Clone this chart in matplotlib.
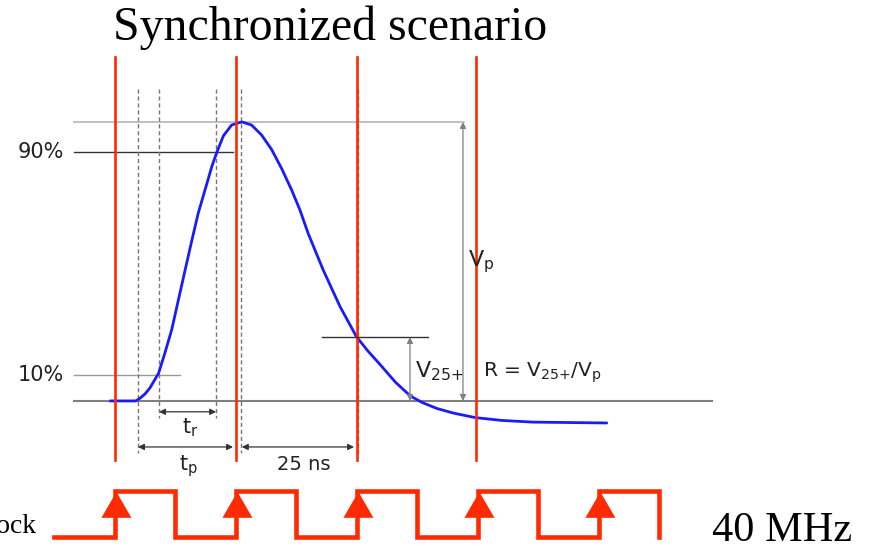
import matplotlib.pyplot as plt
import numpy as np

# pulse shape (time in ns, amplitude normalised to peak)
pulse_t = [-1.0, 4.3, 5.2, 6.2, 7.2, 9.0, 10.3, 11.7, 13.1, 14.5, 15.9, 17.2, 18.6, 20.0, 21.1, 22.4,
           24.1, 26.2, 28.2, 30.3, 32.4, 34.4, 36.5, 38.2, 39.9, 43.0, 46.5, 49.9, 52.3, 54.8, 57.9,
           61.0, 63.5, 66.5, 70.0, 74.5, 80.0, 86.4, 101.6]
pulse_v = [0.0, 0.0, 0.010, 0.025, 0.046, 0.099, 0.171, 0.254, 0.362, 0.470, 0.577, 0.673, 0.756,
           0.840, 0.894, 0.950, 0.989, 1.0, 0.989, 0.953, 0.900, 0.834, 0.756, 0.685, 0.601, 0.470,
           0.338, 0.230, 0.178, 0.130, 0.068, 0.018, -0.006, -0.027, -0.044, -0.060, -0.070, -0.076, -0.079]

# sampling instants (red lines), 25 ns apart
sample_t = [0, 25, 50, 74.6]

# 40 MHz clock
clock_t = [-12.5, 0, 0, 12.5, 12.5, 25, 25, 37.5, 37.5, 50, 50, 62.5, 62.5,
           75, 75, 87.5, 87.5, 100, 100, 112.5, 112.5]
clock_lvl = [0, 0, 1, 1, 0, 0, 1, 1, 0, 0, 1, 1, 0, 0, 1, 1, 0, 0, 1, 1, 0]
rising_t = [0, 25, 50, 75, 100]

# timing marks
t_start = 4.75
t_10 = 9.1
t_90 = 20.9
t_peak = 26.0
t_25 = 50.2
v_25 = 0.229

red = '#ff2a00'
txt = '#222222'

fig = plt.figure(figsize=(8.7, 5.46), dpi=100)
ax = fig.add_axes([0, 0, 1, 1])
ax.set_xlim(-23.76, 156.0)
ax.set_ylim(-0.520, 1.437)
ax.axis('off')
plt.rcParams['mathtext.default'] = 'regular'

# reference levels
ax.plot([-8.5, 72.1], [1.0, 1.0], color='#b5b5b5', lw=1.2)
ax.plot([-8.5, 24.4], [0.893, 0.893], color='#333333', lw=1.0)
ax.plot([-8.5, 13.4], [0.093, 0.093], color='#999999', lw=1.0)
ax.plot([-8.5, 123.3], [0.0, 0.0], color='#808080', lw=1.5)
ax.text(-10.6, 0.893, '90%', ha='right', va='center', fontsize=15, color=txt)
ax.text(-10.6, 0.093, '10%', ha='right', va='center', fontsize=15, color=txt)

# dashed timing guides
for t, bot in [(t_start, -0.186), (t_10, -0.061), (t_90, -0.061), (t_peak, -0.186), (t_25, -0.186)]:
    ax.plot([t, t], [1.118, bot], color='#777777', lw=1.0, ls=(0, (3, 2)))

# pulse
ax.plot(pulse_t, pulse_v, color='#1a1aff', lw=2.0, solid_capstyle='round', solid_joinstyle='round')

# sampling lines
for t in sample_t:
    ax.plot([t, t], [1.233, -0.211], color=red, lw=1.9)

# arrows
arr = dict(arrowstyle='<|-|>', color='#333333', lw=0.9, mutation_scale=9, shrinkA=0, shrinkB=0)
ax.annotate('', xy=(t_10, -0.039), xytext=(t_90, -0.039), arrowprops=arr)
ax.annotate('', xy=(t_start, -0.165), xytext=(24.4, -0.165), arrowprops=arr)
ax.annotate('', xy=(26.2, -0.165), xytext=(49.4, -0.165), arrowprops=arr)
vp_arr = dict(arr, color='#808080')
ax.annotate('', xy=(71.9, 1.0), xytext=(71.9, 0.0), arrowprops=vp_arr)
ax.annotate('', xy=(60.95, v_25), xytext=(60.95, 0.0), arrowprops=vp_arr)
ax.plot([42.8, 64.7], [v_25, v_25], color='#333333', lw=1.0)

ax.text(15.5, -0.097, '$t_r$', ha='center', va='center', fontsize=15, color=txt)
ax.text(15.1, -0.235, '$t_p$', ha='center', va='center', fontsize=15, color=txt)
ax.text(39.0, -0.229, '25 ns', ha='center', va='center', fontsize=14, color=txt)
ax.text(72.9, 0.50, '$V_p$', ha='left', va='center', fontsize=16, color=txt)
ax.text(62.0, 0.105, '$V_{25{+}}$', ha='left', va='center', fontsize=16, color=txt)
ax.text(76.0, 0.10, 'R = $V_{25{+}}$/$V_p$', ha='left', va='center', fontsize=14.5, color=txt)

# clock
clk_lo, clk_hi = -0.487, -0.323
clk_y = [clk_lo + (clk_hi - clk_lo) * l for l in clock_lvl]
ax.plot(clock_t, clk_y, color=red, lw=3.3, solid_joinstyle='miter')
for t in rising_t:
    ax.fill([t - 2.8, t + 3.4, t + 0.3], [-0.419, -0.419, -0.326], color=red, lw=0)

ax.text(-16.1, -0.473, 'Clock', ha='right', va='baseline', fontsize=20,
        family='Liberation Serif')
ax.text(123.3, -0.502, '40 MHz', ha='left', va='baseline', fontsize=30.5,
        family='Liberation Serif')
ax.text(44.4, 1.294, 'Synchronized scenario', ha='center', va='baseline', fontsize=34.4,
        family='Liberation Serif')

plt.savefig('out.png', dpi=100)
